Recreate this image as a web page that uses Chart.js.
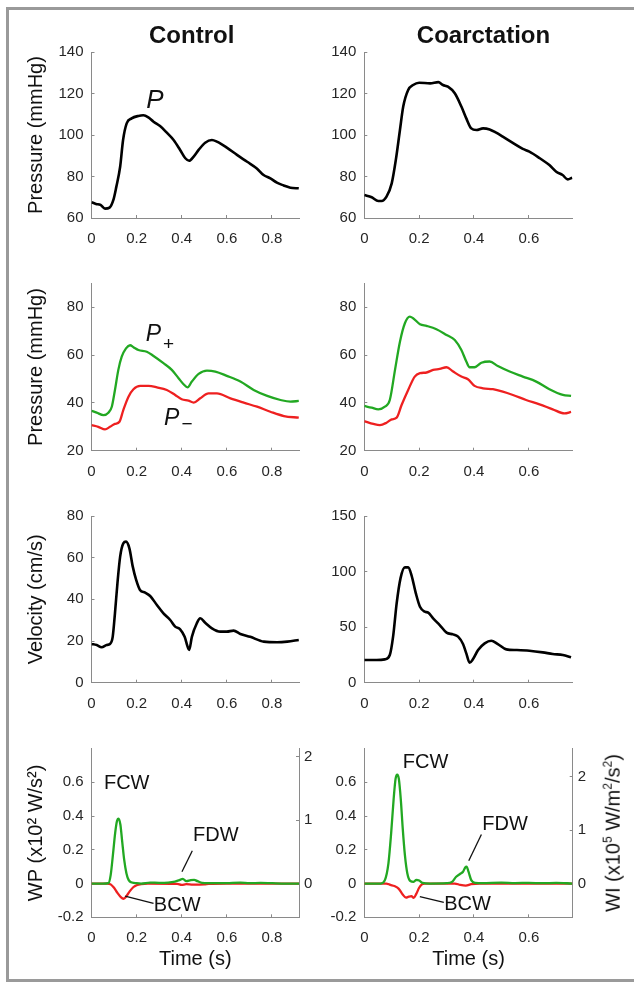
<!DOCTYPE html>
<html>
<head>
<meta charset="utf-8">
<script src="https://cdn.jsdelivr.net/npm/chart.js@4.4.1/dist/chart.umd.min.js"></script>
<style>
  html, body { margin: 0; padding: 0; background: #fff; }
  body { width: 634px; height: 986px; position: relative; overflow: hidden;
         font-family: 'Liberation Sans', Helvetica, Arial, 'DejaVu Sans', sans-serif; }
  canvas { position: absolute; }
  .frame { position: absolute; background: #9a9a9a; }
  .lbl { position: absolute; transform: translate(-50%, -50%); line-height: 1; white-space: nowrap; color: #111; }
  .title { font-weight: bold; font-size: 24px; }
  .ann { font-size: 20px; }
  .it { font-style: italic; }
</style>
</head>
<body>
<div class="frame" style="left:6px; top:7px; width:628px; height:3px;"></div>
<div class="frame" style="left:6px; top:7px; width:3px; height:975px;"></div>
<div class="frame" style="left:6px; top:979px; width:628px; height:3px;"></div>

<canvas id="c1" width="317" height="250" style="left:0px; top:0px;"></canvas>
<canvas id="c2" width="317" height="250" style="left:317px; top:0px;"></canvas>
<canvas id="c3" width="317" height="230" style="left:0px; top:250px;"></canvas>
<canvas id="c4" width="317" height="230" style="left:317px; top:250px;"></canvas>
<canvas id="c5" width="317" height="235" style="left:0px; top:480px;"></canvas>
<canvas id="c6" width="317" height="235" style="left:317px; top:480px;"></canvas>
<canvas id="c7" width="317" height="271" style="left:0px; top:715px;"></canvas>
<canvas id="c8" width="317" height="271" style="left:317px; top:715px;"></canvas>

<div class="lbl title" style="left:191.7px; top:35px;">Control</div>
<div class="lbl title" style="left:483.5px; top:35px;">Coarctation</div>
<div class="lbl it" style="left:155px; top:99px; font-size:26px;">P</div>
<div class="lbl it" style="left:153.5px; top:333px; font-size:23px;">P</div>
<div class="lbl" style="left:168.5px; top:343px; font-size:19px;">+</div>
<div class="lbl it" style="left:171.7px; top:416.5px; font-size:23px;">P</div>
<div class="lbl" style="left:187px; top:423px; font-size:19px;">−</div>
<div class="lbl ann" style="left:126.7px; top:781.7px;">FCW</div>
<div class="lbl ann" style="left:215.8px; top:834.2px;">FDW</div>
<div class="lbl ann" style="left:177.2px; top:904.2px;">BCW</div>
<div class="lbl ann" style="left:425.5px; top:760.8px;">FCW</div>
<div class="lbl ann" style="left:505px; top:822.5px;">FDW</div>
<div class="lbl ann" style="left:467.5px; top:902.5px;">BCW</div>
<div class="lbl" style="left:612px; top:833px; font-size:20px; transform: translate(-50%,-50%) rotate(-90deg);">WI (x10<sup style="font-size:12px;">5</sup> W/m<sup style="font-size:12px;">2</sup>/s<sup style="font-size:12px;">2</sup>)</div>

<script>
// ---------------- data ----------------
// Control: pressure P
const tCtrlP = [0, 0.02, 0.04, 0.06, 0.08, 0.097, 0.11, 0.127, 0.14, 0.156, 0.178, 0.208, 0.23, 0.252, 0.275, 0.304, 0.334, 0.364, 0.393, 0.416, 0.433, 0.453, 0.475, 0.504, 0.534, 0.556, 0.6, 0.645, 0.69, 0.733, 0.763, 0.793, 0.822, 0.852, 0.882, 0.919];
const ctrlP  = [67.6, 66.8, 66.3, 64.5, 65, 68.7, 75, 84.7, 97.6, 105.6, 108, 109.2, 109.5, 108.5, 106.4, 104.3, 101.1, 97.6, 92.8, 88.8, 87.6, 89.6, 92.8, 96.3, 97.6, 96.8, 93.9, 90.4, 87.1, 83.9, 80.7, 79.1, 77, 75.7, 74.6, 74.3];
// Coarctation: pressure P
const tCoaP = [0, 0.027, 0.051, 0.063, 0.081, 0.1, 0.115, 0.13, 0.142, 0.16, 0.178, 0.2, 0.24, 0.27, 0.287, 0.305, 0.33, 0.354, 0.372, 0.39, 0.409, 0.433, 0.457, 0.481, 0.505, 0.54, 0.578, 0.602, 0.64, 0.675, 0.7, 0.723, 0.742, 0.758];
const coaP  = [71.1, 70, 68.2, 68.2, 70.3, 76.7, 88, 102.4, 113.7, 121.7, 124.1, 125.2, 124.9, 125.5, 124.1, 123.3, 120.1, 113.7, 108, 103.2, 102.4, 103.2, 102.7, 101.1, 99.2, 96.3, 93.3, 92, 88.8, 85.5, 82.3, 80.7, 78.6, 79.4];

// Control: forward (P+) and backward (P-) pressure
const tCtrlPf = [0, 0.023, 0.053, 0.075, 0.09, 0.104, 0.119, 0.134, 0.153, 0.171, 0.186, 0.208, 0.245, 0.275, 0.319, 0.356, 0.386, 0.408, 0.426, 0.445, 0.475, 0.512, 0.549, 0.6, 0.66, 0.719, 0.779, 0.838, 0.882, 0.919];
const ctrlPf  = [36.7, 35.9, 34.9, 35.9, 38.4, 45.4, 53.8, 59.3, 62.8, 64.1, 63.3, 62.1, 61.4, 59.6, 56.6, 53.8, 50.3, 47.8, 46.5, 48.9, 52.1, 53.5, 53.1, 51.3, 48.9, 45.4, 42.9, 41.2, 40.5, 40.8];
const tCtrlPb = [0, 0.03, 0.06, 0.082, 0.104, 0.124, 0.141, 0.164, 0.186, 0.216, 0.253, 0.29, 0.334, 0.371, 0.4, 0.43, 0.453, 0.482, 0.519, 0.556, 0.616, 0.675, 0.734, 0.793, 0.853, 0.919];
const ctrlPb  = [30.7, 30, 28.9, 30, 31.2, 32.1, 37, 42.6, 45.7, 47.1, 47.1, 46.5, 45.4, 43.3, 41.5, 40.9, 40.1, 41.9, 44, 44, 41.9, 40.1, 38.4, 36.3, 34.5, 33.8];
// Coarctation: forward (P+) and backward (P-) pressure
const tCoaPf = [0, 0.027, 0.051, 0.075, 0.093, 0.112, 0.13, 0.148, 0.166, 0.178, 0.203, 0.227, 0.263, 0.3, 0.33, 0.354, 0.372, 0.384, 0.402, 0.427, 0.457, 0.487, 0.53, 0.578, 0.627, 0.675, 0.724, 0.754];
const coaPf  = [38.7, 38, 37.3, 38.4, 41.2, 53.8, 65.6, 73.3, 76.1, 75.4, 72.9, 72.2, 70.8, 68.4, 66.3, 62.1, 57.3, 54.9, 54.9, 56.8, 57.3, 55.4, 53.1, 51, 48.9, 45.7, 43.3, 42.9];
const tCoaPb = [0, 0.033, 0.057, 0.081, 0.1, 0.118, 0.136, 0.16, 0.184, 0.203, 0.227, 0.251, 0.275, 0.3, 0.324, 0.354, 0.378, 0.402, 0.433, 0.469, 0.505, 0.542, 0.59, 0.639, 0.687, 0.73, 0.754];
const coaPb  = [32.4, 31.2, 30.7, 31.7, 33.1, 33.8, 39.1, 45.4, 51, 52.4, 52.7, 53.8, 54.2, 54.9, 53.1, 51, 49.9, 47.1, 46.1, 45.7, 44.7, 43.3, 41.2, 39.4, 37.3, 35.6, 36.2];

// Control: velocity
const tCtrlU = [0, 0.023, 0.045, 0.067, 0.082, 0.094, 0.104, 0.115, 0.127, 0.141, 0.153, 0.168, 0.183, 0.198, 0.215, 0.238, 0.26, 0.29, 0.319, 0.349, 0.371, 0.393, 0.413, 0.426, 0.433, 0.445, 0.467, 0.482, 0.504, 0.534, 0.571, 0.6, 0.63, 0.66, 0.704, 0.764, 0.823, 0.868, 0.919];
const ctrlU  = [18.6, 18.1, 17, 18.1, 18.6, 22, 33.3, 47.7, 60.5, 66.9, 67.7, 64.5, 55.7, 49.3, 44.5, 43.2, 41.6, 37.3, 33.3, 30.1, 26.9, 25.6, 22, 17.3, 15.7, 22, 28.5, 30.9, 28.8, 26.1, 24.5, 24.5, 25, 23.4, 22, 19.7, 19.4, 19.7, 20.5];
// Coarctation: velocity
const tCoaU = [0, 0.045, 0.075, 0.093, 0.105, 0.118, 0.132, 0.148, 0.16, 0.172, 0.188, 0.203, 0.221, 0.233, 0.251, 0.275, 0.3, 0.324, 0.342, 0.36, 0.372, 0.384, 0.396, 0.415, 0.439, 0.463, 0.487, 0.518, 0.554, 0.602, 0.651, 0.687, 0.724, 0.754];
const coaU  = [20.4, 20.4, 21, 24.9, 41.4, 71.4, 93.9, 103.8, 103.8, 96.9, 80.4, 68.4, 63.9, 63, 57.9, 51.9, 45, 43.5, 41.4, 34.8, 26.4, 18, 21, 29.4, 35.4, 37.8, 34.8, 30, 29.4, 28.8, 27.3, 25.8, 24.9, 22.8];

// Control: wave power / intensity (forward green, backward red)
const tCtrlWf = [0, 0.05, 0.075, 0.085, 0.095, 0.105, 0.113, 0.12, 0.128, 0.136, 0.145, 0.155, 0.165, 0.18, 0.2, 0.22, 0.26, 0.3, 0.34, 0.37, 0.39, 0.405, 0.42, 0.44, 0.455, 0.47, 0.49, 0.52, 0.6, 0.66, 0.7, 0.75, 0.8, 0.86, 0.92];
const ctrlWf  = [0, 0, 0.003, 0.05, 0.17, 0.3, 0.37, 0.385, 0.35, 0.25, 0.14, 0.06, 0.02, 0.006, 0.002, 0, 0.006, 0.004, 0.006, 0.012, 0.02, 0.028, 0.014, 0.02, 0.022, 0.014, 0.004, 0.002, 0.003, 0.006, 0.002, 0.004, 0.002, 0, 0];
const tCtrlWb = [0, 0.07, 0.085, 0.1, 0.115, 0.13, 0.142, 0.155, 0.17, 0.185, 0.2, 0.22, 0.25, 0.38, 0.4, 0.42, 0.45, 0.5, 0.52, 0.6, 0.92];
const ctrlWb  = [0, 0, -0.005, -0.025, -0.055, -0.08, -0.09, -0.075, -0.045, -0.022, -0.01, -0.003, 0, -0.002, -0.008, -0.004, -0.006, -0.005, -0.002, 0, 0];
// Coarctation: wave power / intensity
const tCoaWf = [0, 0.06, 0.075, 0.088, 0.098, 0.107, 0.114, 0.12, 0.126, 0.133, 0.14, 0.148, 0.157, 0.168, 0.18, 0.19, 0.2, 0.212, 0.24, 0.3, 0.32, 0.335, 0.35, 0.36, 0.368, 0.373, 0.38, 0.39, 0.405, 0.43, 0.5, 0.55, 0.6, 0.65, 0.7, 0.758];
const coaWf  = [0, 0, 0.02, 0.12, 0.3, 0.5, 0.62, 0.645, 0.62, 0.5, 0.33, 0.17, 0.06, 0.015, 0.01, 0.022, 0.018, 0.004, 0, 0.002, 0.01, 0.04, 0.058, 0.07, 0.095, 0.1, 0.07, 0.02, 0.004, 0.002, 0.006, 0.003, 0.004, 0.002, 0.004, 0];
const tCoaWb = [0, 0.08, 0.095, 0.11, 0.125, 0.14, 0.152, 0.162, 0.172, 0.18, 0.19, 0.2, 0.21, 0.22, 0.33, 0.35, 0.37, 0.39, 0.42, 0.758];
const coaWb  = [0, 0, -0.008, -0.015, -0.03, -0.065, -0.083, -0.078, -0.075, -0.085, -0.06, -0.025, -0.005, 0, 0, -0.008, -0.012, -0.004, 0, 0];

// axis ranges and tick labels
const xMaxCtrl = 0.92, xMaxCoa = 0.76;
const xTicksCtrl = [0, 0.2, 0.4, 0.6, 0.8];
const xTicksCoa = [0, 0.2, 0.4, 0.6];
const pTicks = [60, 80, 100, 120, 140];
const pfbTicks = [20, 40, 60, 80];
const uTicksCtrl = [0, 20, 40, 60, 80];
const uTicksCoa = [0, 50, 100, 150];
const wTicks = [-0.2, 0, 0.2, 0.4, 0.6];
const wiTicks = [0, 1, 2];
// right axis (WI) range for each column
const wiRangeCtrl = [-0.532, 2.128];
const wiRangeCoa = [-0.632, 2.528];

// leader lines [x1, y1, x2, y2] in data units
const leadCtrl = [[0.447, 0.194, 0.401, 0.07], [0.149, -0.074, 0.275, -0.117]];
const leadCoa = [[0.427, 0.291, 0.381, 0.135], [0.2025, -0.078, 0.29, -0.111]];

// ---------------- style ----------------
const AXIS = '#8a8a8a', TXT = '#262626';
const BLACK = '#000000', GREEN = '#22a822', RED = '#ee2020';
Chart.defaults.font.family = "'Liberation Sans', Helvetica, Arial, 'DejaVu Sans', sans-serif";
Chart.defaults.color = TXT;

const rows = [
  {padTop: 52, xH: 32},
  {padTop: 33.3, xH: 29.3},
  {padTop: 36, xH: 32.3},
  {padTop: 33.5, xH: 68.7}
];
const cols = [
  {yW: 91.5, rightW: 18, xMax: xMaxCtrl, xTicks: xTicksCtrl},
  {yW: 47.3, rightW: 61.3, xMax: xMaxCoa, xTicks: xTicksCoa}
];

function pts(t, v) { return t.map((x, i) => ({x: x, y: v[i]})); }
function fmt(v) { return String(Math.round(v * 100) / 100); }

const leaderPlugin = {
  id: 'leaders',
  afterDatasetsDraw(chart, args, opts) {
    if (!opts || !opts.lines) return;
    const {ctx, scales: {x, y}} = chart;
    ctx.save();
    ctx.strokeStyle = '#111';
    ctx.lineWidth = 1.3;
    opts.lines.forEach(l => {
      ctx.beginPath();
      ctx.moveTo(x.getPixelForValue(l[0]), y.getPixelForValue(l[1]));
      ctx.lineTo(x.getPixelForValue(l[2]), y.getPixelForValue(l[3]));
      ctx.stroke();
    });
    ctx.restore();
  }
};

function panel(id, r, c, cfg) {
  const row = rows[r], col = cols[c];
  const hasRight = !!cfg.right;
  const scales = {
    x: {
      type: 'linear', min: 0, max: col.xMax,
      afterBuildTicks: s => { s.ticks = col.xTicks.map(v => ({value: v})); },
      afterFit: s => { s.height = row.xH; },
      ticks: {font: {size: 15}, color: TXT, padding: 15, maxRotation: 0, callback: fmt},
      grid: {drawOnChartArea: false, drawTicks: true, tickLength: -3, color: AXIS},
      border: {display: true, color: AXIS, width: 1},
      title: {display: !!cfg.xTitle, text: cfg.xTitle || '', font: {size: 20}, color: '#111', padding: {top: 0, bottom: 15}}
    },
    y: {
      type: 'linear', position: 'left', min: cfg.yMin, max: cfg.yMax,
      afterBuildTicks: s => { s.ticks = cfg.yTicks.map(v => ({value: v})); },
      afterFit: s => { s.width = col.yW; },
      ticks: {font: {size: 15}, color: TXT, padding: 11, callback: fmt},
      grid: {drawOnChartArea: false, drawTicks: true, tickLength: -3, color: AXIS},
      border: {display: true, color: AXIS, width: 1},
      title: {display: !!cfg.yTitle, text: cfg.yTitle || '', font: {size: 20}, color: '#111', padding: {top: 24, bottom: 0}}
    }
  };
  if (hasRight) {
    scales.y2 = {
      type: 'linear', position: 'right', min: cfg.right.range[0], max: cfg.right.range[1],
      afterBuildTicks: s => { s.ticks = cfg.right.ticks.map(v => ({value: v})); },
      afterFit: s => { s.width = col.rightW; },
      ticks: {font: {size: 15}, color: TXT, padding: 8, callback: fmt},
      grid: {drawOnChartArea: false, drawTicks: true, tickLength: -3, color: AXIS},
      border: {display: true, color: AXIS, width: 1}
    };
  }
  new Chart(document.getElementById(id), {
    type: 'line',
    data: {
      datasets: cfg.series.map(s => ({
        data: pts(s.t, s.v),
        borderColor: s.color,
        borderWidth: s.w,
        pointRadius: 0,
        fill: false,
        tension: 0.4,
        cubicInterpolationMode: 'monotone',
        xAxisID: 'x', yAxisID: 'y'
      }))
    },
    options: {
      responsive: false,
      animation: false,
      devicePixelRatio: 1,
      layout: {padding: {left: 0, top: row.padTop, right: hasRight ? 0 : col.rightW, bottom: 0}},
      plugins: {legend: {display: false}, tooltip: {enabled: false}, leaders: {lines: cfg.leaders || null}},
      scales: scales
    },
    plugins: [leaderPlugin]
  });
}

panel('c1', 0, 0, {yMin: 60, yMax: 140, yTicks: pTicks, yTitle: 'Pressure (mmHg)',
  series: [{t: tCtrlP, v: ctrlP, color: BLACK, w: 2.6}]});
panel('c2', 0, 1, {yMin: 60, yMax: 140, yTicks: pTicks,
  series: [{t: tCoaP, v: coaP, color: BLACK, w: 2.6}]});
panel('c3', 1, 0, {yMin: 20, yMax: 90, yTicks: pfbTicks, yTitle: 'Pressure (mmHg)',
  series: [{t: tCtrlPf, v: ctrlPf, color: GREEN, w: 2.3}, {t: tCtrlPb, v: ctrlPb, color: RED, w: 2.3}]});
panel('c4', 1, 1, {yMin: 20, yMax: 90, yTicks: pfbTicks,
  series: [{t: tCoaPf, v: coaPf, color: GREEN, w: 2.3}, {t: tCoaPb, v: coaPb, color: RED, w: 2.3}]});
panel('c5', 2, 0, {yMin: 0, yMax: 80, yTicks: uTicksCtrl, yTitle: 'Velocity (cm/s)',
  series: [{t: tCtrlU, v: ctrlU, color: BLACK, w: 2.6}]});
panel('c6', 2, 1, {yMin: 0, yMax: 150, yTicks: uTicksCoa,
  series: [{t: tCoaU, v: coaU, color: BLACK, w: 2.6}]});
panel('c7', 3, 0, {yMin: -0.2, yMax: 0.8, yTicks: wTicks, yTitle: 'WP (x10² W/s²)', xTitle: 'Time (s)',
  right: {range: wiRangeCtrl, ticks: wiTicks}, leaders: leadCtrl,
  series: [{t: tCtrlWf, v: ctrlWf, color: GREEN, w: 2.3}, {t: tCtrlWb, v: ctrlWb, color: RED, w: 2.3}]});
panel('c8', 3, 1, {yMin: -0.2, yMax: 0.8, yTicks: wTicks, xTitle: 'Time (s)',
  right: {range: wiRangeCoa, ticks: wiTicks}, leaders: leadCoa,
  series: [{t: tCoaWf, v: coaWf, color: GREEN, w: 2.3}, {t: tCoaWb, v: coaWb, color: RED, w: 2.3}]});
</script>
</body>
</html>
